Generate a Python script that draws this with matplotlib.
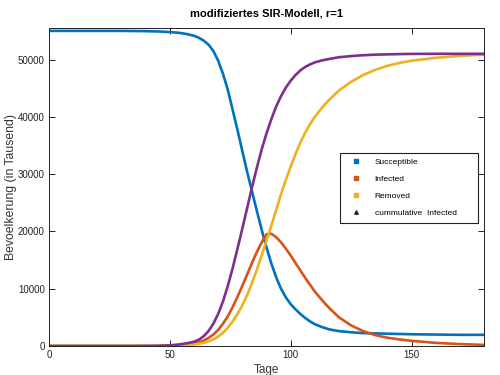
import matplotlib
matplotlib.use("Agg")
import matplotlib.pyplot as plt
from matplotlib.lines import Line2D

plt.rcParams['font.family'] = ['Liberation Sans', 'DejaVu Sans']

# values
tage = [0, 10, 20, 30, 40, 45, 50, 54, 57, 60, 62, 64, 66, 68, 70, 72, 74,
        76, 78, 80, 82, 84, 86, 88, 90, 92, 94, 96, 98, 100, 102, 104, 106,
        108, 110, 113, 116, 120, 125, 130, 135, 140, 145, 150, 160, 170, 180]
susceptible = [55000, 55000, 55000, 55000, 54950, 54900, 54800, 54650, 54450,
               54150, 53800, 53300, 52600, 51500, 49800, 47500, 44700, 41200,
               37700, 34000, 30400, 27000, 23600, 20300, 17200, 14400, 12000,
               10000, 8500, 7300, 6400, 5600, 4900, 4300, 3800, 3300, 2900,
               2600, 2400, 2250, 2200, 2150, 2100, 2050, 2000, 1950, 1950]
infected = [0, 0, 0, 0, 10, 20, 60, 130, 250, 450, 650, 950, 1400, 2000, 2800,
            3900, 5200, 6800, 8600, 10500, 12500, 14500, 16400, 18100, 19500,
            19600, 19000, 18100, 17000, 15800, 14500, 13200, 11900, 10700,
            9500, 8000, 6600, 5000, 3600, 2600, 1900, 1450, 1150, 900, 550,
            330, 200]
removed = [0, 0, 0, 0, 0, 5, 20, 50, 120, 250, 380, 560, 800, 1150, 1650,
           2300, 3200, 4300, 5600, 7100, 8900, 11000, 13300, 15800, 18400,
           21000, 23700, 26500, 29000, 31300, 33500, 35500, 37200, 38700,
           40000, 41600, 43000, 44600, 46100, 47300, 48200, 48900, 49400,
           49800, 50300, 50650, 50850]
cumulative = [0, 0, 0, 0, 10, 30, 120, 280, 480, 750, 1100, 1700, 2600, 3900,
              5600, 7800, 10500, 13600, 17000, 20500, 24100, 27700, 31100,
              34300, 37100, 39600, 41800, 43600, 45100, 46300, 47300, 48100,
              48700, 49150, 49500, 49850, 50100, 50400, 50600, 50750, 50850,
              50900, 50950, 50980, 51000, 51000, 51000]

labels = ['Succeptible', 'Infected', 'Removed', 'cummulative  Infected']
colors = ['#0072BD', '#D95319', '#EDB120', '#7E2F8E']

fig = plt.figure(figsize=(5, 3.75), dpi=100)
ax = fig.add_axes([0.098, 0.0773, 0.87, 0.848])

for series, c in zip([susceptible, infected, removed, cumulative], colors):
    ax.plot(tage, series, color=c, linewidth=1.9, solid_joinstyle='round')

ax.set_xlim(0, 180)
ax.set_ylim(0, 55500)
ax.set_xticks([0, 50, 100, 150])
ax.set_yticks([0, 10000, 20000, 30000, 40000, 50000])
ax.tick_params(direction='in', length=4, width=0.7, labelsize=7,
               top=True, right=True, colors='#222222', pad=3)
for s in ax.spines.values():
    s.set_linewidth(0.7)
    s.set_color('#222222')

ax.set_xlabel('Tage', fontsize=8.5, labelpad=3, color='#333333')
ax.set_ylabel('Bevoelkerung (in Tausend)', fontsize=8.8, labelpad=0.5, color='#333333')
ax.set_title('modifiziertes SIR-Modell, r=1', fontsize=8, fontweight='bold', pad=8)

handles = [
    Line2D([], [], linestyle='none', marker='s', markersize=2.2, color=colors[0]),
    Line2D([], [], linestyle='none', marker='s', markersize=2.2, color=colors[1]),
    Line2D([], [], linestyle='none', marker='s', markersize=2.2, color=colors[2]),
    Line2D([], [], linestyle='none', marker='^', markersize=2.5, color='#222222'),
]
leg = ax.legend(handles, labels, loc='upper left',
                bbox_to_anchor=(0.669, 0.387, 0.317, 0.22), mode='expand',
                fontsize=6, frameon=True, fancybox=False, borderpad=0.65,
                labelspacing=1.1, handlelength=2.6, handletextpad=0.9,
                borderaxespad=0)
leg.get_frame().set_edgecolor('#222222')
leg.get_frame().set_linewidth(0.8)
leg.get_frame().set_alpha(1)

fig.savefig('out.png', dpi=100)
